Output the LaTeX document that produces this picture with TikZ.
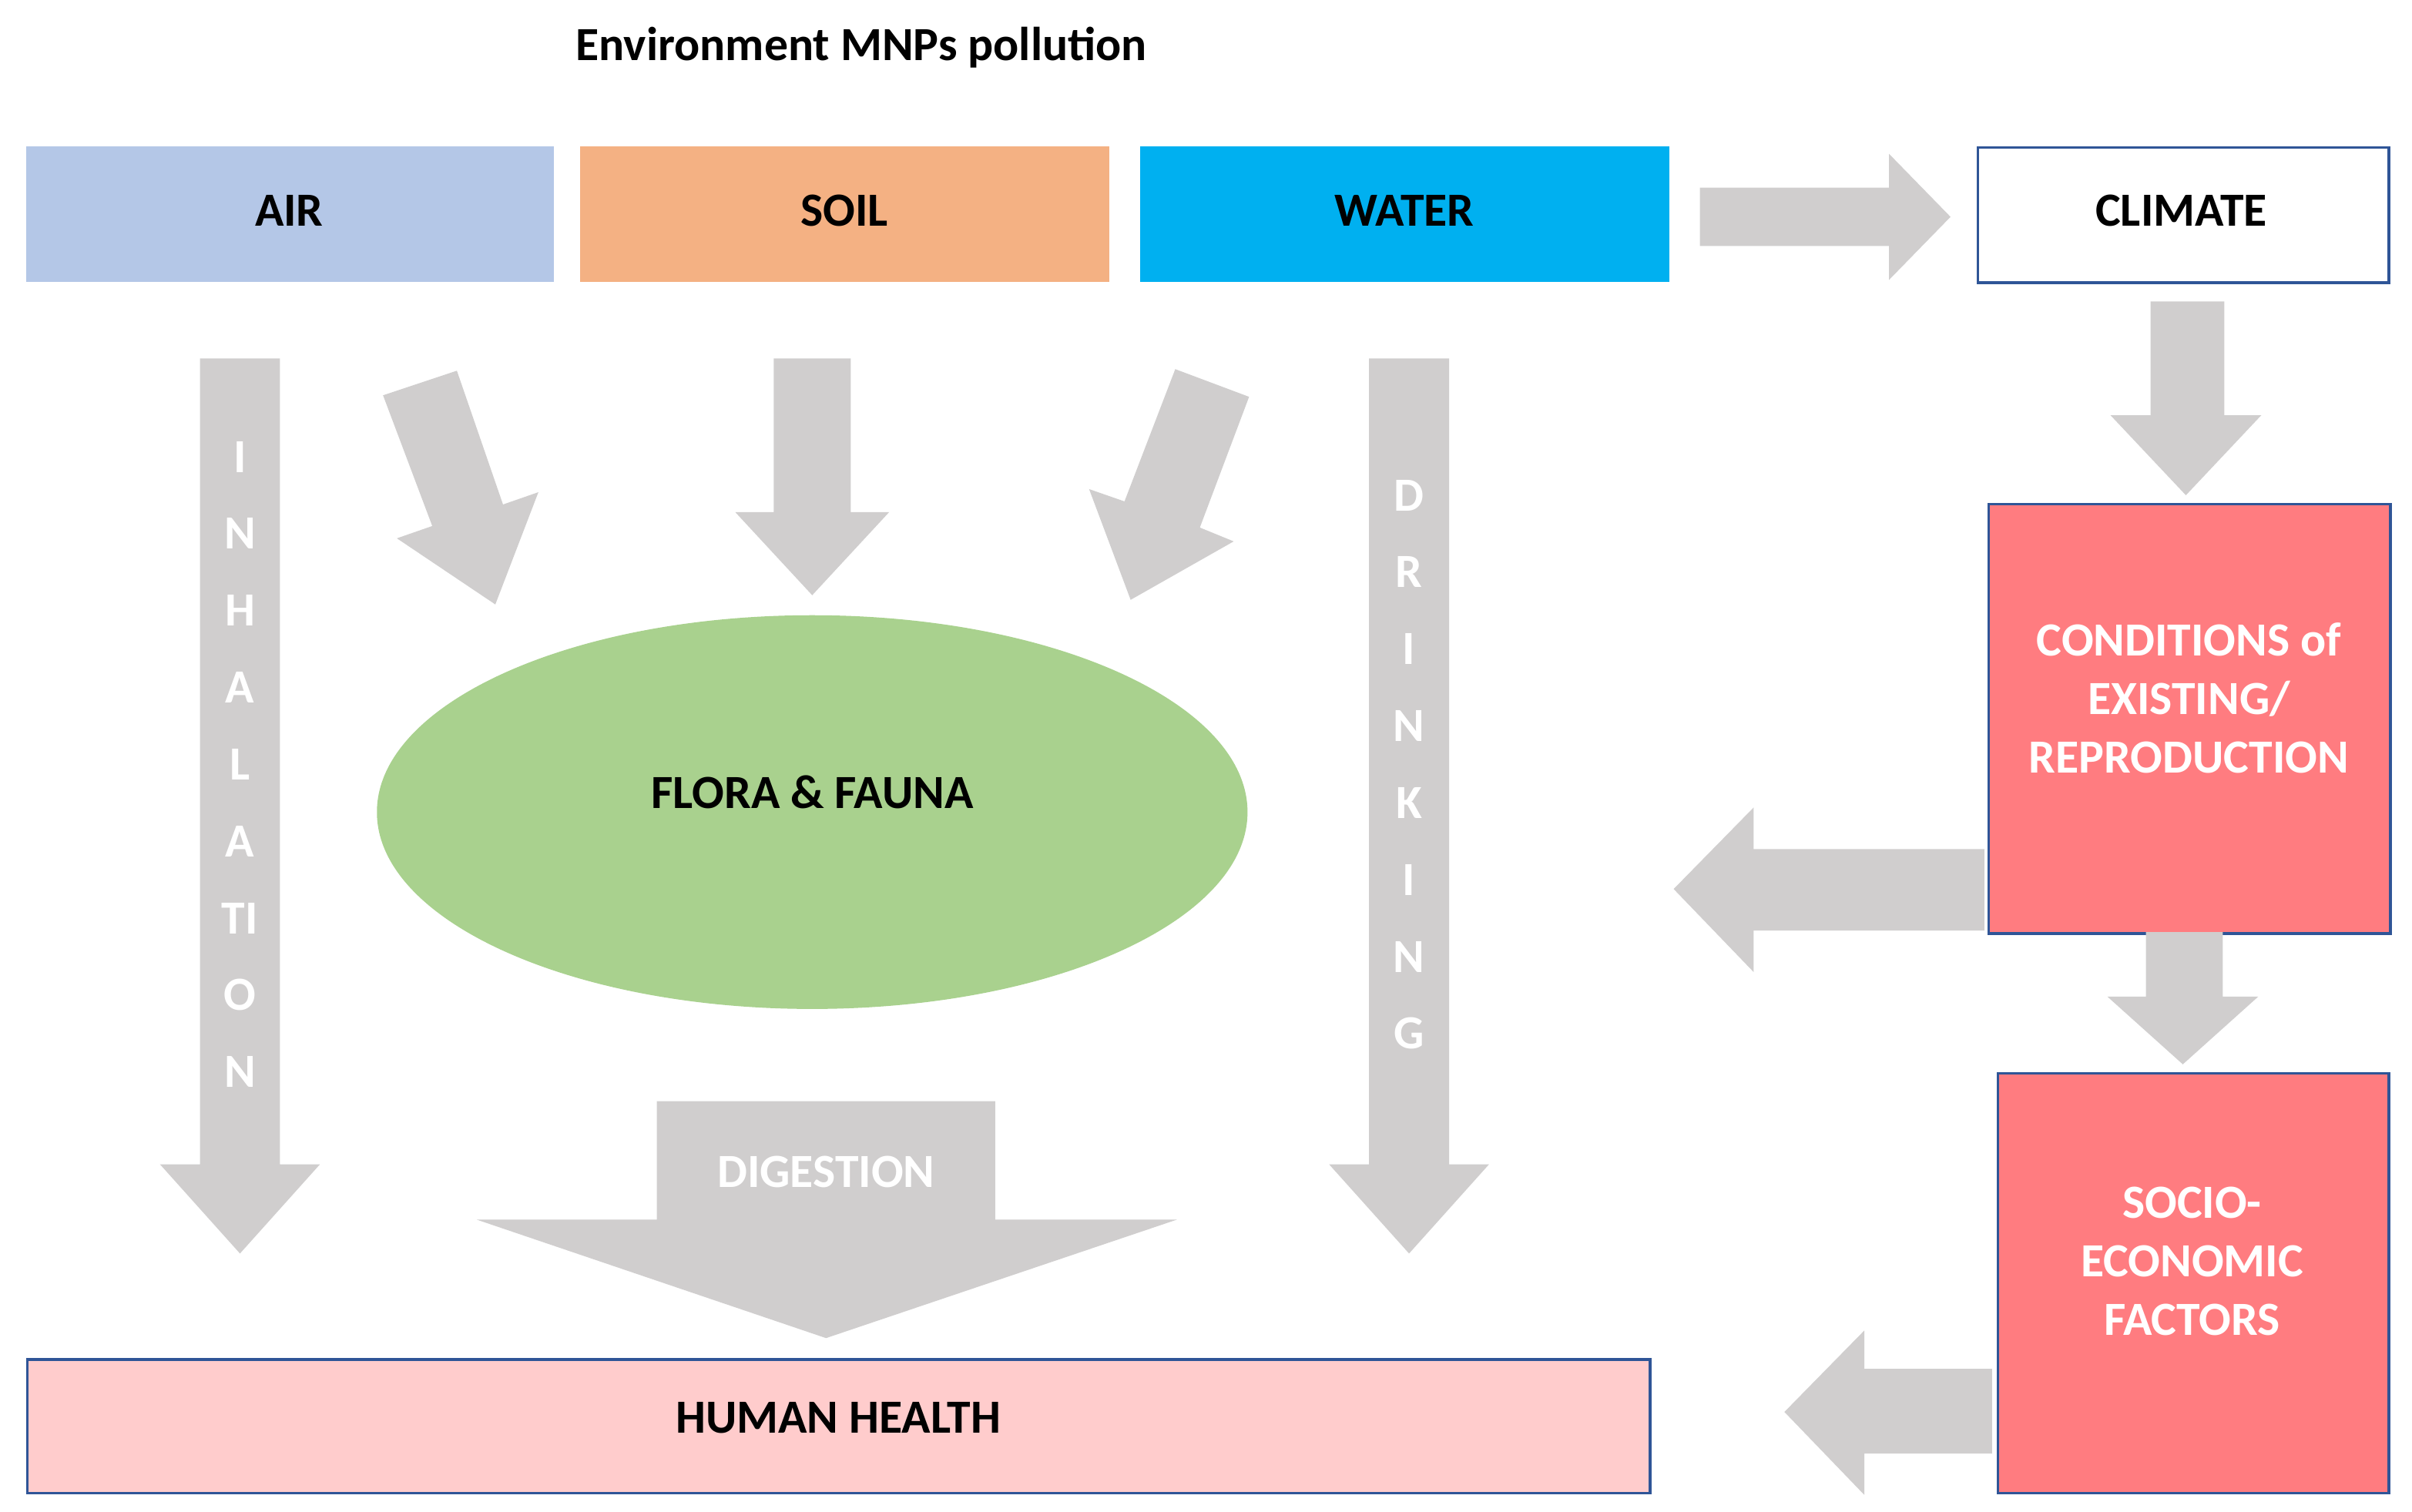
\documentclass[tikz,border=0pt]{standalone}
\usepackage{fontspec}
\setmainfont{Carlito}
\usetikzlibrary{shapes.geometric}
\definecolor{arr}{HTML}{D0CECE}
\definecolor{bord}{HTML}{2F5597}
\begin{document}
\begin{tikzpicture}[x=0.05cm,y=-0.05cm,
  txt/.style={font=\fontsize{44}{54}\selectfont\bfseries},
  box/.style={draw=bord,line width=2.5pt,inner sep=0pt,anchor=north west,txt},
  flat/.style={inner sep=0pt,anchor=north west,txt},
  ar/.style={fill=arr,draw=none},
  let/.style={txt,text=white}]
\useasboundingbox (0,0) rectangle (1568,983);
\node[txt] (title) at (560,31) {Environment MNPs pollution};
\node[flat,fill=blue!0,fill={rgb,255:red,180;green,199;blue,231},minimum width=343\pgflinewidth*0+17.15cm,minimum height=4.4cm] (air) at (17,95) {};
\node[txt] at (188,137) {AIR};
\node[flat,fill={rgb,255:red,244;green,177;blue,131},minimum width=17.2cm,minimum height=4.4cm] (soil) at (377,95) {};
\node[txt] at (549,137) {SOIL};
\node[flat,fill={rgb,255:red,0;green,176;blue,240},minimum width=17.2cm,minimum height=4.4cm] (water) at (741,95) {};
\node[txt] at (913,137) {WATER};
\node[box,fill=white,minimum width=13.35cm,minimum height=4.4cm] (climate) at (1285,95) {};
\node[txt] at (1418,137) {CLIMATE};
\node[box,fill={rgb,255:red,255;green,124;blue,128},minimum width=13.05cm,minimum height=13.95cm] (cond) at (1292,327) {};
\node[txt,text=white,align=center] at (1423,454) {CONDITIONS of\\EXISTING/\\REPRODUCTION};
\node[box,fill={rgb,255:red,255;green,124;blue,128},minimum width=12.7cm,minimum height=13.65cm] (socio) at (1298,697) {};
\node[txt,text=white,align=center] at (1425,820) {SOCIO-\\ECONOMIC\\FACTORS};
\node[box,fill={rgb,255:red,255;green,204;blue,204},minimum width=52.75cm,minimum height=4.35cm] (human) at (17,883) {};
\node[txt] at (545,922) {HUMAN HEALTH};
% arrows
\fill[ar] (1105,122) -- (1228,122) -- (1228,100) -- (1268,141) -- (1228,182) -- (1228,160) -- (1105,160) -- cycle;
\fill[ar] (1398,196) -- (1446,196) -- (1446,270) -- (1470,270) -- (1421,322) -- (1372,270) -- (1398,270) -- cycle;
\fill[ar] (1290,552) -- (1140,552) -- (1140,525) -- (1088,578) -- (1140,632) -- (1140,605) -- (1290,605) -- cycle;
\fill[ar] (1395,606) -- (1445,606) -- (1445,648) -- (1468,648) -- (1419,692) -- (1370,648) -- (1395,648) -- cycle;
\fill[ar] (1295,890) -- (1212,890) -- (1212,865) -- (1160,918) -- (1212,972) -- (1212,945) -- (1295,945) -- cycle;
\fill[ar] (130,233) -- (182,233) -- (182,757) -- (208,757) -- (156,815) -- (104,757) -- (130,757) -- cycle;
\fill[ar] (890,233) -- (942,233) -- (942,757) -- (968,757) -- (916,815) -- (864,757) -- (890,757) -- cycle;
\fill[ar] (503,233) -- (553,233) -- (553,333) -- (578,333) -- (528,387) -- (478,333) -- (503,333) -- cycle;
\fill[ar] (249,257) -- (297,241) -- (327,328) -- (350,320) -- (322,393) -- (258,350) -- (281,342) -- cycle;
\fill[ar] (764,240) -- (812,258) -- (780,343) -- (802,352) -- (735,390) -- (708,318) -- (731,326) -- cycle;
\fill[ar] (427,716) -- (647,716) -- (647,793) -- (765,793) -- (537,870) -- (310,793) -- (427,793) -- cycle;
\node[let] (dig) at (537,762) {DIGESTION};
\node[ellipse,fill={rgb,255:red,169;green,209;blue,142},minimum width=28.3cm,minimum height=12.8cm,inner sep=0pt] (ff) at (528,528) {};
\node[txt] at (528,515) {FLORA \& FAUNA};
\foreach \l [count=\i from 0] in {I,N,H,A,L,A,TI,O,N}
  \node[let] at (156,297+50*\i) {\l};
\foreach \l [count=\i from 0] in {D,R,I,N,K,I,N,G}
  \node[let] at (916,322+50*\i) {\l};
\end{tikzpicture}
\end{document}
